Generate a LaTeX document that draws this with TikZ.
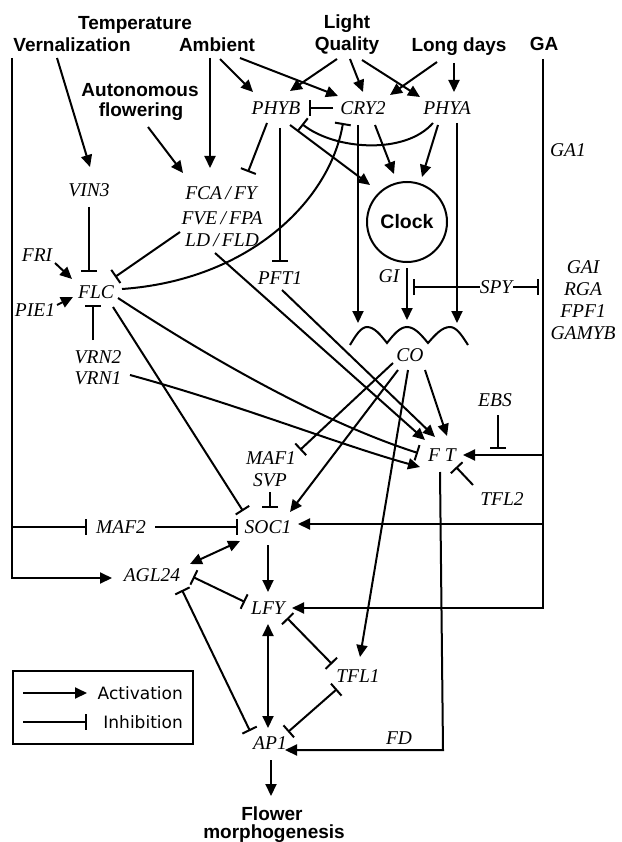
\documentclass[tikz,border=0pt]{standalone}
\usepackage{fontspec}
\setmainfont{Liberation Serif}
\newfontfamily\cuefont{Liberation Sans}
\newfontfamily\keyfont{DejaVu Sans}
\usetikzlibrary{arrows.meta,calc}
\tikzset{
  gene/.style={font=\itshape\fontsize{19.5}{21.8}\selectfont,inner sep=1pt},
  cue/.style={font=\cuefont\bfseries\fontsize{19}{22}\selectfont,anchor=base,inner sep=0pt},
  clockc/.style={circle,draw,line width=2pt,minimum size=80pt,inner sep=0pt,font=\cuefont\bfseries\fontsize{19.5}{22}\selectfont},
  keytxt/.style={font=\keyfont\fontsize{17}{20}\selectfont,anchor=east,inner sep=0pt},
  link/.style={line width=2pt},
  act/.style={link,-{Triangle[length=12pt,width=11pt]}},
  dact/.style={link,{Triangle[length=12pt,width=11pt]}-{Triangle[length=12pt,width=11pt]}},
  inh/.style={link,-{Bar[width=16pt]}},
  mutinh/.style={link,{Bar[width=16pt]}-{Bar[width=16pt]}},
}
\begin{document}
\begin{tikzpicture}[x=1pt,y=-1pt]
  \useasboundingbox (0,0) rectangle (621,842);
  % cues
  \node[cue] (temp) at (135,30) {Temperature};
  \node[cue] (vern) at (72,52) {Vernalization};
  \node[cue] (amb) at (217,52) {Ambient};
  \node[cue] (light) at (347,29) {Light};
  \node[cue] (qual) at (347,51) {Quality};
  \node[cue] (ldays) at (459,52) {Long days};
  \node[cue] (ga) at (544,51) {GA};
  \node[cue] (auto) at (140,97) {Autonomous};
  \node[cue] (flow) at (141,117) {flowering};
  % genes
  \node[gene] (phyb) at (276,108) {PHYB};
  \node[gene] (cry2) at (363,108) {CRY2};
  \node[gene] (phya) at (447,108) {PHYA};
  \node[gene] (ga1) at (568,150) {GA1};
  \node[gene] (vin3) at (89,190) {VIN3};
  \node[gene] (fca) at (221,193) {FCA\,/\,FY};
  \node[gene] (fve) at (222,218) {FVE\,/\,FPA};
  \node[gene] (ldfld) at (222,240) {LD\,/\,FLD};
  \node[clockc] (clock) at (407,222) {Clock};
  \node[gene] (gi) at (389,276) {GI};
  \node[gene] (spy) at (496,287) {SPY};
  \node[gene,align=center] (gai) at (583,300) {GAI\\RGA\\FPF1\\GAMYB};
  \node[gene] (co) at (410,355) {CO};
  \node[gene] (fri) at (37,255) {FRI};
  \node[gene] (flc) at (96,292) {FLC};
  \node[gene] (pie1) at (35,310) {PIE1};
  \node[gene] (vrn2) at (98,357) {VRN2};
  \node[gene] (vrn1) at (98,378) {VRN1};
  \node[gene] (pft1) at (280,278) {PFT1};
  \node[gene] (ebs) at (495,400) {EBS};
  \node[gene] (ft) at (442,455) {F T};
  \node[gene] (tfl2) at (502,499) {TFL2};
  \node[gene] (maf1) at (271,458) {MAF1};
  \node[gene] (svp) at (270,480) {SVP};
  \node[gene] (soc1) at (268,527) {SOC1};
  \node[gene] (maf2) at (121,527) {MAF2};
  \node[gene] (agl24) at (152,575) {AGL24};
  \node[gene] (lfy) at (268,608) {LFY};
  \node[gene] (tfl1) at (358,676) {TFL1};
  \node[gene] (ap1) at (270,743) {AP1};
  \node[gene] (fd) at (399,738) {FD};
  \node[cue] (flower) at (272,820) {Flower};
  \node[cue] (morph) at (274,838) {morphogenesis};
  % legend
  \node[draw,line width=1.2pt,minimum width=180pt,minimum height=73pt] (key) at (103,707.5) {};
  \node[keytxt] (kact) at ($(key)+(80,-14.5)$) {Activation};
  \node[keytxt] (kinh) at ($(key)+(80,14.5)$) {Inhibition};
  \draw[act] ($(key)+(-80,-14.5)$) -- ($(key)+(-16,-14.5)$);
  \draw[inh] ($(key)+(-80,14.5)$) -- ($(key)+(-16,14.5)$);
  % environmental inputs
  \coordinate (vtop) at ($(vern.base)+(-60,6)$);
  \draw[act] (vtop) |- ($(agl24)+(-40,3)$);
  \draw[inh] (vtop |- maf2) -- ($(maf2)+(-34,0)$);
  \draw[act] ($(vern.base)+(-15,6)$) -- ($(vin3)+(1,-23)$);
  \draw[act] ($(amb.base)+(-7,6)$) -- ($(fca)+(-11,-25)$);
  \draw[act] ($(amb.base)+(3,7)$) -- ($(phyb)+(-23,-16)$);
  \draw[act] ($(amb.base)+(23,6)$) -- ($(cry2)+(-25,-12)$);
  \draw[act] ($(flow.base)+(7,10)$) -- ($(fca)+(-38,-20)$);
  \draw[act] ($(qual.base)+(-10,8)$) -- ($(phyb)+(14,-17)$);
  \draw[act] ($(qual.base)+(3,8)$) -- ($(cry2)+(0,-16)$);
  \draw[act] ($(qual.base)+(15,9)$) -- ($(phya)+(-27,-11)$);
  \draw[act] ($(ldays.base)+(-22,10)$) -- ($(cry2)+(27,-13)$);
  \draw[act] ($(ldays.base)+(-5,11)$) -- ($(phya)+(7,-16)$);
  % photoreceptors and clock
  \draw[inh] ($(cry2)+(-30,0)$) -- ($(phyb)+(33,0)$);
  \draw[inh] ($(phya)+(-14,15)$) .. controls ($(phya)+(-42,47)$) and ($(phyb)+(59,42)$) .. ($(phyb)+(26,16)$);
  \draw[inh] ($(phyb)+(-9,15)$) -- ($(fca)+(27,-21)$);
  \draw[inh] ($(phyb)+(4,20)$) -- ($(pft1)+(0,-16)$);
  \draw[act] ($(phyb)+(14,17)$) -- ($(clock)+(-37,-37)$);
  \draw[act] ($(cry2)+(12,17)$) -- ($(clock)+(-13,-48)$);
  \draw[act] ($(phya)+(-9,17)$) -- ($(clock)+(15,-45)$);
  \draw[act] ($(cry2)+(-5,17)$) -- ($(co)+(-52,-32)$);
  \draw[act] ($(phya)+(10,15)$) -- ($(co)+(47,-32)$);
  \draw[act] ($(clock)+(0,46)$) -- ($(co)+(-3,-35)$);
  \draw[link] ($(co)+(-60,-10)$) sin ($(co)+(-43,-28)$) cos ($(co)+(-23,-12)$)
    sin ($(co)+(-3,-28)$) cos ($(co)+(18,-12)$) sin ($(co)+(40,-28)$) cos ($(co)+(58,-10)$);
  \draw[inh] ($(spy)+(-16,0)$) -- ($(spy)+(-83,0)$);
  % FLC module
  \draw[inh] ($(vin3)+(0,17)$) -- ($(flc)+(-7,-20)$);
  \draw[act] ($(fri)+(18,8)$) -- ($(flc)+(-24,-13)$);
  \draw[act] ($(pie1)+(22,-5)$) -- ($(flc)+(-23,5)$);
  \draw[inh] ($(vrn2)+(-5,-17)$) -- ($(flc)+(-3,13)$);
  \draw[inh] ($(ldfld)+(-42,-8)$) -- ($(flc)+(19,-15)$);
  \draw[inh] ($(flc)+(26,-3)$) .. controls ($(flc)+(154,-12)$) and ($(cry2)+(-33,92)$) .. ($(cry2)+(-20,15)$);
  \draw[inh] ($(flc)+(22,6)$) .. controls ($(flc)+(124,73)$) and ($(ft)+(-112,-30)$) .. ($(ft)+(-24,-2)$);
  \draw[inh] ($(flc)+(17,15)$) -- ($(soc1)+(-25,-16)$);
  \draw[act] ($(vrn1)+(32,-3)$) .. controls ($(vrn1)+(142,27)$) and ($(ft)+(-102,-10)$) .. ($(ft)+(-22,12)$);
  % FT inputs
  \draw[act] ($(ldfld)+(-7,13)$) -- ($(ft)+(-17,-15)$);
  \draw[act] ($(pft1)+(2,12)$) -- ($(ft)+(-7,-18)$);
  \draw[act] ($(co)+(15,15)$) -- ($(ft)+(5,-19)$);
  \draw[inh] ($(co)+(-17,8)$) -- ($(maf1)+(29,-8)$);
  \draw[act] ($(co)+(-12,15)$) -- ($(soc1)+(22,-15)$);
  \draw[act] ($(co)+(-2,15)$) -- ($(tfl1)+(2,-19)$);
  \draw[inh] ($(tfl2)+(-29,-14)$) -- ($(ft)+(14,12)$);
  % GA pathway
  \coordinate (gal) at ($(ga.base)+(-1,8)$);
  \draw[act] (gal) |- ($(lfy)+(24,0)$);
  \draw[act] (gal |- ft) -- ($(ft)+(21,0)$);
  \draw[act] ($(gal |- soc1)+(0,-3)$) -- ($(soc1)+(30,-3)$);
  \draw[inh] ($(spy)+(17,0)$) -- ($(gal |- spy)+(-4,0)$);
  \draw[inh] ($(ebs)+(3,15)$) -- ($(ebs)+(3,49)$);
  % floral integrators
  \draw[inh] ($(svp)+(0,12)$) -- ($(soc1)+(2,-19)$);
  \draw[inh] ($(maf2)+(34,0)$) -- ($(soc1)+(-30,0)$);
  \draw[act] ($(soc1)+(0,18)$) -- ($(lfy)+(0,-16)$);
  \draw[dact] ($(agl24)+(38,-11)$) -- ($(soc1)+(-28,14)$);
  \draw[mutinh] ($(agl24)+(41,2)$) -- ($(lfy)+(-23,-6)$);
  \draw[mutinh] ($(agl24)+(30,15)$) -- ($(ap1)+(-20,-12)$);
  \draw[dact] ($(lfy)+(0,16)$) -- ($(ap1)+(-2,-15)$);
  \draw[mutinh] ($(lfy)+(19,10)$) -- ($(tfl1)+(-26,-12)$);
  \draw[mutinh] ($(tfl1)+(-21,13)$) -- ($(ap1)+(18,-11)$);
  \draw[act] ($(ft)+(-2,17)$) -- ($(ft)+(1,295)$) -- ($(ap1)+(15,7)$);
  \draw[act] ($(ap1)+(1,17)$) -- ($(flower.base)+(-1,-24)$);
\end{tikzpicture}
\end{document}
